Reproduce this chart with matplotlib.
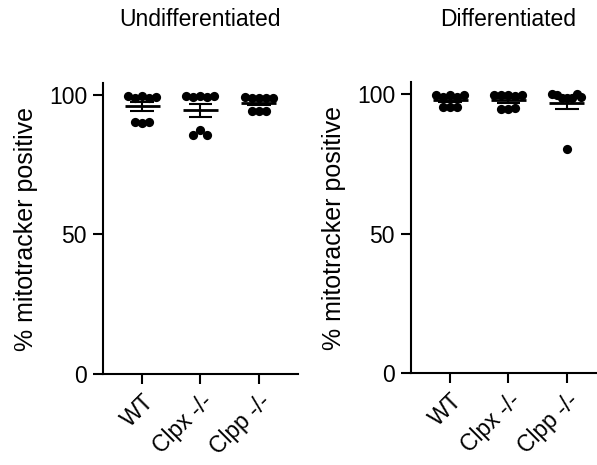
import numpy as np
import matplotlib
matplotlib.use('Agg')
import matplotlib.pyplot as plt

plt.rcParams['font.family'] = ['Liberation Sans', 'DejaVu Sans']

# 数据：每组 8 个样本，% mitotracker positive
groups = ['WT', 'Clpx -/-', 'Clpp -/-']

wt_undiff = [99.5, 99.0, 99.6, 98.9, 99.4, 90.5, 90.0, 90.4]
clpx_undiff = [99.6, 99.4, 99.5, 99.3, 99.6, 85.7, 87.5, 85.6]
clpp_undiff = [99.2, 98.8, 99.1, 99.0, 98.9, 94.3, 94.1, 94.4]

wt_diff = [99.7, 98.8, 99.5, 99.0, 99.6, 95.5, 95.2, 95.4]
clpx_diff = [99.6, 99.5, 99.7, 99.4, 99.6, 94.8, 94.6, 94.9]
clpp_diff = [100.0, 99.8, 98.6, 98.5, 98.6, 99.9, 99.0, 80.4]

panels = [
    ('Undifferentiated', [wt_undiff, clpx_undiff, clpp_undiff]),
    ('Differentiated', [wt_diff, clpx_diff, clpp_diff]),
]


def swarm_offsets(vals, gap=2.0, step=0.12, maxw=0.5):
    # 把相近的值分成一行，水平铺开
    vals = np.asarray(vals)
    order = np.argsort(-vals, kind='stable')
    clusters = []
    for i in order:
        if clusters and abs(vals[clusters[-1][-1]] - vals[i]) < gap:
            clusters[-1].append(i)
        else:
            clusters.append([i])
    offs = np.zeros(len(vals))
    for c in clusters:
        c = sorted(c)
        n = len(c)
        if n == 1:
            continue
        s = min(step, maxw / (n - 1))
        for k, i in enumerate(c):
            offs[i] = (k - (n - 1) / 2) * s
    return offs


fig = plt.figure(figsize=(5.97, 4.65), dpi=100)
ax_pos = [[0.1725, 0.1957, 0.3266, 0.6258],
          [0.6884, 0.1978, 0.3266, 0.6258]]

for (title, data), pos in zip(panels, ax_pos):
    ax = fig.add_axes(pos)
    for i, vals in enumerate(data):
        vals = np.asarray(vals)
        xs = i + swarm_offsets(vals)
        ax.scatter(xs, vals, s=44, color='black', zorder=3, linewidths=0)
        # 均值 ± 标准误
        m = vals.mean()
        sem = vals.std(ddof=1) / np.sqrt(len(vals))
        ax.hlines(m, i - 0.3, i + 0.3, color='black', lw=2, zorder=4)
        ax.vlines(i, m - sem, m + sem, color='black', lw=1.5, zorder=4)
        ax.hlines([m - sem, m + sem], i - 0.2, i + 0.2, color='black', lw=1.5, zorder=4)

    ax.set_xlim(-0.67, 2.67)
    ax.set_ylim(0, 104.3)
    ax.set_yticks([0, 50, 100])
    ax.set_xticks(range(len(groups)))
    ax.set_xticklabels(groups, rotation=45, ha='right', rotation_mode='anchor')
    ax.spines['top'].set_visible(False)
    ax.spines['right'].set_visible(False)
    ax.spines['left'].set_linewidth(1.5)
    ax.spines['bottom'].set_linewidth(1.5)
    ax.tick_params(axis='both', width=1.5, length=7.5, labelsize=16.5, pad=4)
    ax.set_ylabel('% mitotracker positive', fontsize=18, labelpad=8)

    # 标题放在坐标轴上方较高位置（以中间组为中心）
    cx = pos[0] + (1 + 0.67) / 3.34 * pos[2]
    fig.text(cx, 1 - 20 / 465, title, fontsize=16.5, ha='center', va='center')

plt.savefig('out.png', dpi=100)
